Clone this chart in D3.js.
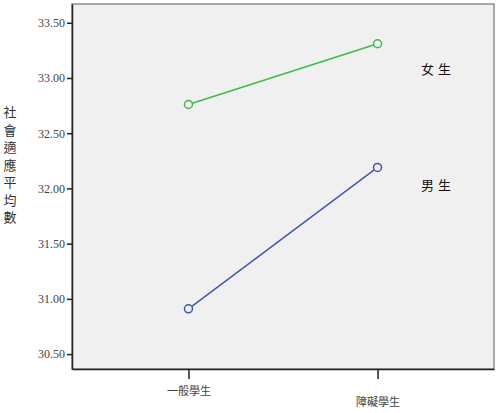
<!DOCTYPE html>
<html>
<head>
<meta charset="utf-8">
<script src="https://cdn.jsdelivr.net/npm/d3@7"></script>
<style>
  body { margin: 0; background: #fff; }
  text { font-family: "Liberation Serif", "Noto Sans CJK TC", serif; }
</style>
</head>
<body>
<div id="chart"></div>
<script>
// data
const groups = ["一般學生", "障礙學生"];
const femaleMeans = [32.76, 33.31];
const maleMeans = [30.91, 32.19];
const seriesNames = ["女生", "男生"];
const yTicks = [30.5, 31.0, 31.5, 32.0, 32.5, 33.0, 33.5];
const yLabel = "社會適應平均數";

const width = 502;
const height = 413;
const plot = { left: 72, right: 494, top: 4, bottom: 369 };
const serif = '"Liberation Serif", "Noto Sans CJK TC", serif';

const svg = d3.select("#chart").append("svg")
  .attr("width", width)
  .attr("height", height);

const x = d3.scalePoint().domain(groups).range([plot.left, plot.right]).padding(0.616);
const y = d3.scaleLinear().domain([30.365, 33.67]).range([plot.bottom, plot.top]);

// plot background + frame
svg.append("rect")
  .attr("x", plot.left).attr("y", plot.top)
  .attr("width", plot.right - plot.left).attr("height", plot.bottom - plot.top)
  .attr("fill", "#f0f0f0").attr("stroke", "#8c8c8c").attr("stroke-width", 1.5);

// y axis
const yAxis = d3.axisLeft(y).tickValues(yTicks).tickFormat(d3.format(".2f")).tickSize(5).tickSizeOuter(0);
const gy = svg.append("g").attr("transform", `translate(${plot.left},0)`).call(yAxis)
  .attr("font-family", serif);
gy.select(".domain").attr("stroke", "#222").attr("stroke-width", 1.5);
gy.selectAll(".tick line").attr("stroke", "#222").attr("stroke-width", 1.5);
gy.selectAll(".tick text").attr("font-size", 12).attr("fill", "#444").attr("x", -7);

// x axis
const xAxis = d3.axisBottom(x).tickSize(10).tickSizeOuter(0);
const gx = svg.append("g").attr("transform", `translate(0,${plot.bottom})`).call(xAxis)
  .attr("font-family", serif);
gx.select(".domain").attr("stroke", "#222").attr("stroke-width", 1.5);
gx.selectAll(".tick line").attr("stroke", "#222").attr("stroke-width", 1.5);
gx.selectAll(".tick text").attr("font-size", 11).attr("fill", "#444")
  .attr("y", (d, i) => i === 0 ? 18 : 29);

// y label, stacked characters
const yl = svg.append("text").attr("font-size", 13).attr("fill", "#333")
  .attr("text-anchor", "middle");
yLabel.split("").forEach((ch, i) => {
  yl.append("tspan").attr("x", 10).attr("y", 117 + i * 17.5).text(ch);
});

// lines
const series = [
  { name: seriesNames[0], values: femaleMeans, color: "#3dba48", dy: 30 },
  { name: seriesNames[1], values: maleMeans, color: "#4257ad", dy: 23 },
];

const line = d3.line().x((d, i) => x(groups[i])).y(d => y(d));

series.forEach(s => {
  svg.append("path")
    .attr("d", line(s.values))
    .attr("fill", "none")
    .attr("stroke", s.color)
    .attr("stroke-width", 1.5);
  svg.selectAll(null).data(s.values).join("circle")
    .attr("cx", (d, i) => x(groups[i]))
    .attr("cy", d => y(d))
    .attr("r", 4)
    .attr("fill", "#f0f0f0")
    .attr("stroke", s.color)
    .attr("stroke-width", 1.5);
  svg.append("text")
    .attr("x", 438)
    .attr("y", y(s.values[1]) + s.dy)
    .attr("text-anchor", "middle")
    .attr("font-size", 13)
    .attr("fill", "#111")
    .attr("letter-spacing", 4)
    .text(s.name);
});
</script>
</body>
</html>
